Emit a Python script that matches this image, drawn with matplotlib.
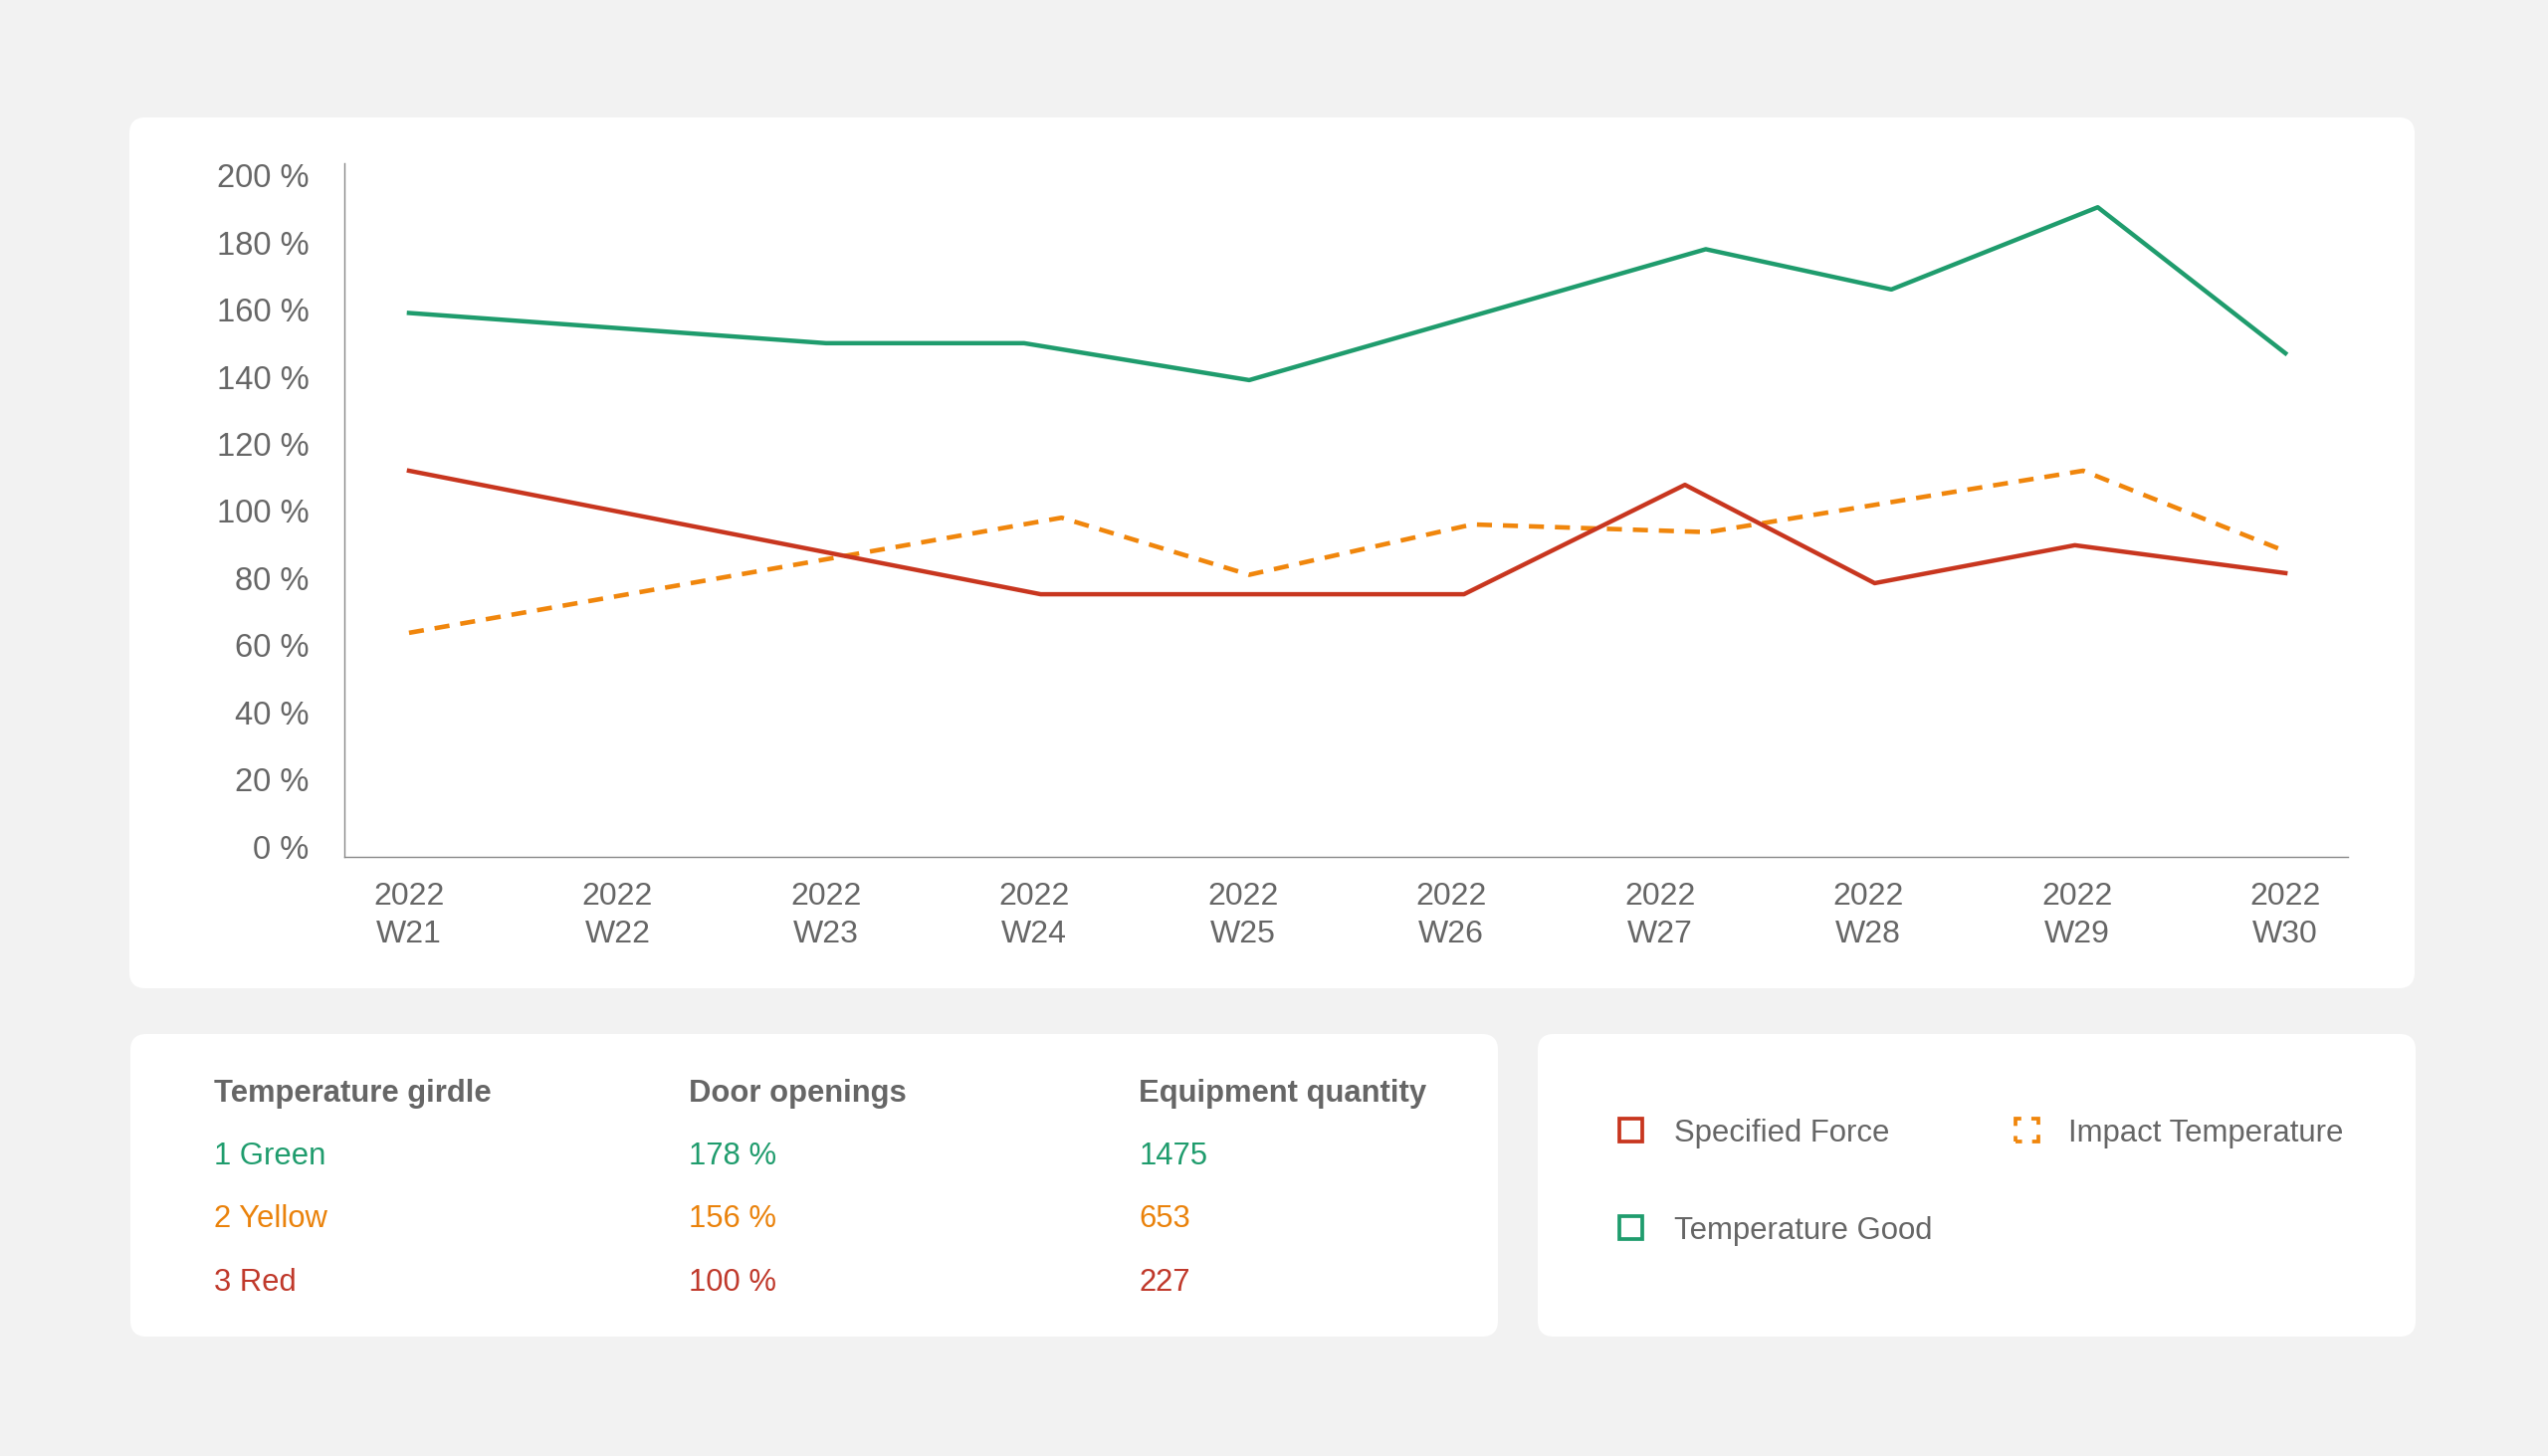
import numpy as np
import matplotlib.pyplot as plt
from matplotlib.patches import FancyBboxPatch, Rectangle

plt.rcParams['font.family'] = ['Liberation Sans', 'DejaVu Sans']

# weekly series (x in week numbers, points do not sit exactly on the week ticks)
green_x = [21, 23, 23.95, 25.03, 27.22, 28.11, 29.10, 30]
green_y = [159, 150, 150, 139, 178, 166, 190.5, 147]
red_x = [21, 24.03, 26.06, 27.12, 28.03, 28.99, 30]
red_y = [112, 75.2, 75.2, 107.8, 78.5, 89.8, 81.5]
orange_x = [21, 24.13, 25.03, 26.10, 27.23, 29.03, 30]
orange_y = [63.7, 98, 81, 96, 93.7, 112, 88]

weeks = list(range(21, 31))
week_labels = ['2022\nW%d' % w for w in weeks]
y_ticks = list(range(0, 201, 20))

# table
table_headers = ['Temperature girdle', 'Door openings', 'Equipment quantity']
zones = ['1 Green', '2 Yellow', '3 Red']
door_openings = ['178 %', '156 %', '100 %']
equipment = [1475, 653, 227]

legend_names = ['Specified Force', 'Impact Temperature', 'Temperature Good']

GREEN = '#1f9c6d'
RED = '#c8361f'
ORANGE = '#f0860c'
GREY = '#666666'
zone_colors = [GREEN, '#ea820b', '#c0392b']

W, H = 2560, 1463
fig = plt.figure(figsize=(W / 100, H / 100), dpi=100, facecolor='#f2f2f2')


def fx(x):
    return x / W


def fy(y):
    return 1 - y / H


def panel(x0, y0, x1, y1):
    p = FancyBboxPatch((x0 / 100, (H - y1) / 100), (x1 - x0) / 100, (y1 - y0) / 100,
                       boxstyle='round,pad=0,rounding_size=0.16',
                       transform=fig.dpi_scale_trans, facecolor='white',
                       edgecolor='none', zorder=-10)
    fig.add_artist(p)


panel(130, 118, 2426, 993)
panel(131, 1039, 1505, 1343)
panel(1545, 1039, 2427, 1343)

# main chart
ax = fig.add_axes([fx(346), fy(861), fx(2359) - fx(346), fy(164.4) - fy(861)])
ax.set_facecolor('none')
ax.plot(orange_x, orange_y, color=ORANGE, lw=3.3, dashes=(3.3, 2.4))
ax.plot(green_x, green_y, color=GREEN, lw=3.2)
ax.plot(red_x, red_y, color=RED, lw=3.2)

ax.set_xlim(20.69, 30.30)
ax.set_ylim(-3.05, 203.5)
ax.set_xticks(weeks)
ax.set_xticklabels(week_labels, linespacing=1.35)
ax.set_yticks(y_ticks)
ax.set_yticklabels(['%d %%' % v for v in y_ticks])
ax.tick_params(axis='both', length=0, labelsize=23, labelcolor=GREY)
ax.tick_params(axis='y', pad=25.7, labelsize=23.6)
ax.tick_params(axis='x', pad=18)
for s in ['top', 'right']:
    ax.spines[s].set_visible(False)
for s in ['left', 'bottom']:
    ax.spines[s].set_color('#888888')
    ax.spines[s].set_linewidth(1.0)

# table panel
col_x = [214.8, 692.5, 1144.3]
for cx, h in zip(col_x, table_headers):
    fig.text(fx(cx), fy(1106.7), h, fontsize=22.3, fontweight='bold', color=GREY,
             va='baseline')
row_y = [1170, 1233.3, 1296.7]
for i in range(len(zones)):
    vals = [zones[i], door_openings[i], str(equipment[i])]
    for cx, v in zip(col_x, vals):
        fig.text(fx(cx), fy(row_y[i]), v, fontsize=22.3, color=zone_colors[i],
                 va='baseline')

# legend panel
leg_items = [
    (legend_names[0], RED, 1627.5, 1123.5, 'solid'),
    (legend_names[1], ORANGE, 2024.5, 1123.5, (1.75, (3.5, 2.7))),
    (legend_names[2], GREEN, 1627.5, 1222.0, 'solid'),
]
for name, col, x0, y0, ls in leg_items:
    r = Rectangle((x0 / 100, (H - y0 - 23) / 100), 0.23, 0.23,
                  transform=fig.dpi_scale_trans, facecolor='none',
                  edgecolor=col, lw=2.7, linestyle=ls)
    fig.add_artist(r)
    fig.text(fx(x0 + 54), fy(y0 + 23.5), name, fontsize=22.4, color=GREY,
             va='baseline')

fig.savefig('out.png', dpi=100, facecolor=fig.get_facecolor())
